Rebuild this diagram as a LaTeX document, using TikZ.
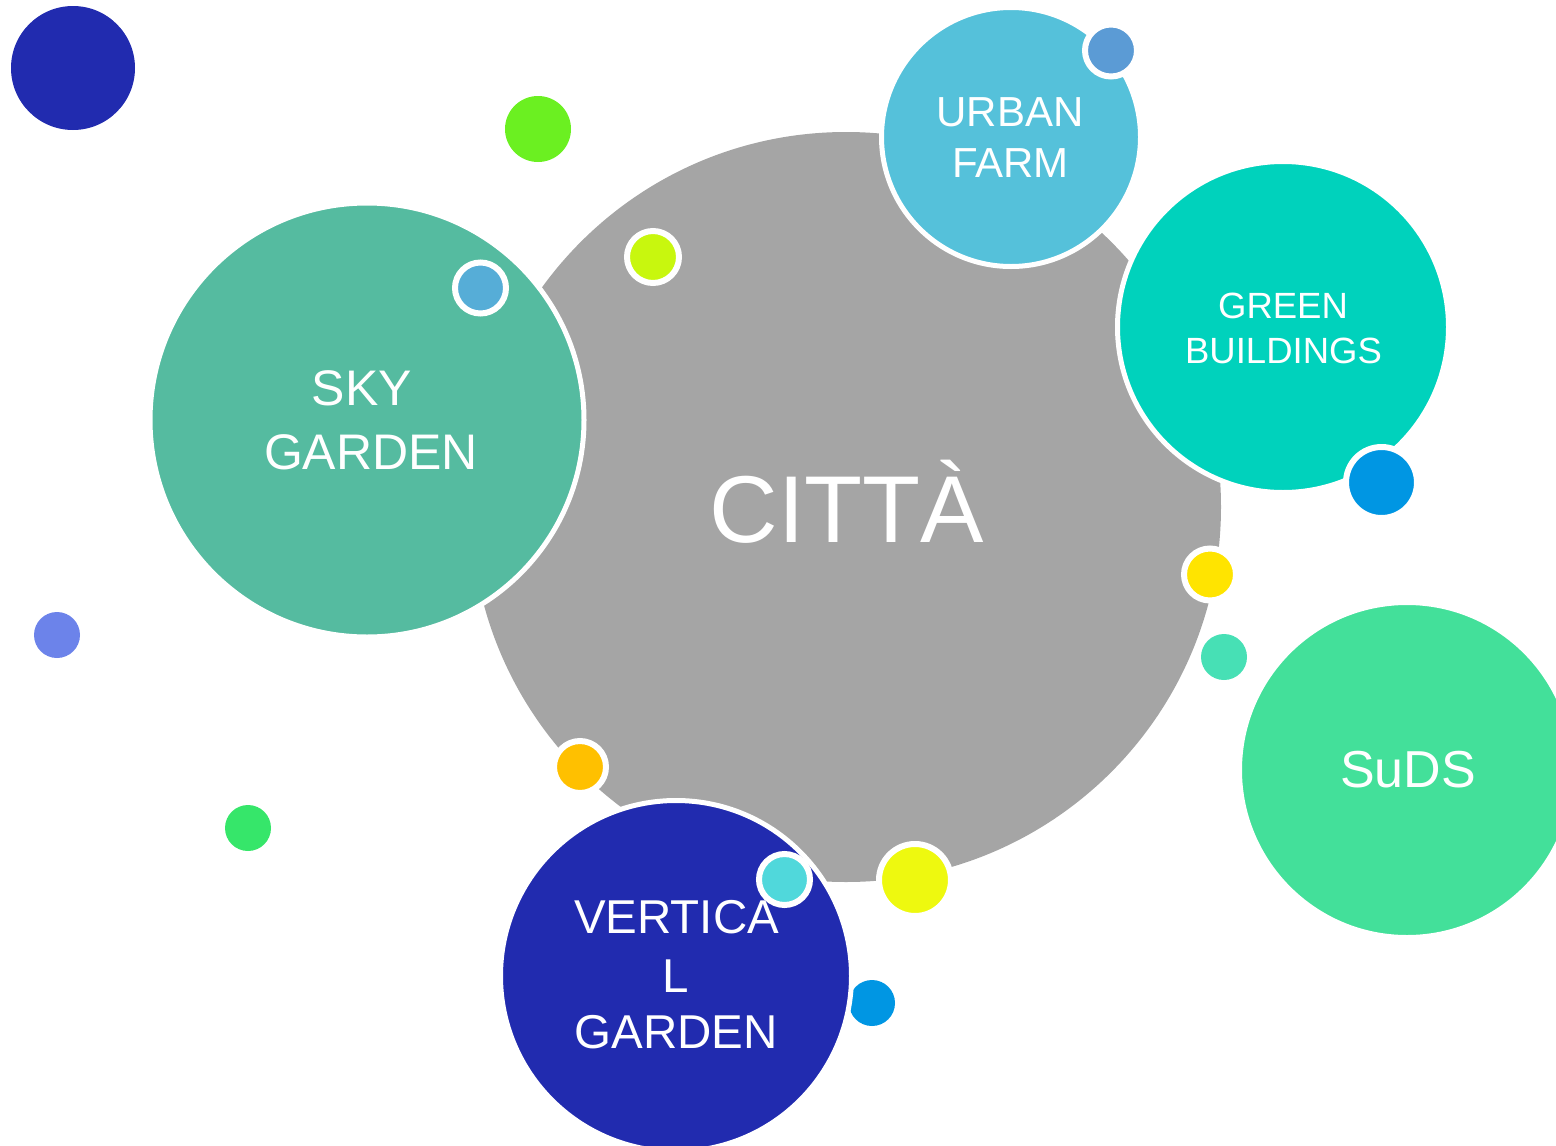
\documentclass[tikz,border=0pt]{standalone}
\usepackage{fontspec}
\setmainfont{Liberation Sans}
\definecolor{cgray}{HTML}{A5A5A5}
\definecolor{csky}{HTML}{55BBA0}
\definecolor{curban}{HTML}{55C1DA}
\definecolor{cgreenb}{HTML}{00D2BC}
\definecolor{csuds}{HTML}{43E09A}
\definecolor{cvert}{HTML}{212BAF}
\definecolor{cgreenA}{HTML}{6BF021}
\definecolor{cygreen}{HTML}{C8F70E}
\definecolor{clblue}{HTML}{56ADD7}
\definecolor{cublue}{HTML}{5B9BD5}
\definecolor{cblue}{HTML}{0096E3}
\definecolor{cyellow}{HTML}{FFE400}
\definecolor{cteal}{HTML}{47E0B5}
\definecolor{cperi}{HTML}{6C83EA}
\definecolor{cgreenB}{HTML}{36E66A}
\definecolor{corange}{HTML}{FFC000}
\definecolor{ccyan}{HTML}{50D8DB}
\definecolor{cyellowB}{HTML}{EEF90F}
\tikzset{
  big/.style={circle, inner sep=0pt, outer sep=0pt, draw=white, line width=5pt, minimum size=#1},
  dot/.style={circle, inner sep=0pt, outer sep=0pt, draw=none, minimum size=#1},
  ringdot/.style={circle, inner sep=0pt, outer sep=0pt, draw=white, line width=6pt, minimum size=#1},
  lbl/.style={anchor=base, text=white, inner sep=0pt, font=\fontsize{#1}{#1}\selectfont}
}
\begin{document}
\begin{tikzpicture}[x=1pt,y=-1pt]
\useasboundingbox (0,0) rectangle (1556,1146);
\clip (0,0) rectangle (1556,1146);
% main circle
\node[dot=750pt, fill=cgray] (citta) at (846,507) {};
% blue dot under vertical garden
\node[dot=46pt, fill=cblue] (d14) at (872,1003) {};
% big circles
\node[big=434pt, fill=csky] (sky) at (367,420) {};
\node[big=259pt, fill=curban] (urban) at (1011,137) {};
\node[big=331pt, fill=cgreenb] (greenb) at (1283,327) {};
\node[big=335pt, fill=csuds] (suds) at (1407,770) {};
\node[big=351pt, fill=cvert] (vert) at (676,976) {};
% free dots
\node[dot=124pt, fill=cvert] (d1) at (73,68) {};
\node[dot=66pt, fill=cgreenA] (d2) at (538,129) {};
\node[dot=46pt, fill=cteal] (d8) at (1224,657) {};
\node[dot=46pt, fill=cperi] (d9) at (57,635) {};
\node[dot=46pt, fill=cgreenB] (d10) at (248,828) {};
% ringed dots
\node[ringdot=52pt, fill=cygreen] (d3) at (653,257) {};
\node[ringdot=51pt, fill=clblue] (d4) at (480.5,288) {};
\node[ringdot=52pt, fill=cublue] (d5) at (1111,50.5) {};
\node[ringdot=71pt, fill=cblue] (d6) at (1381.5,482.5) {};
\node[ringdot=52pt, fill=cyellow] (d7) at (1210,574.5) {};
\node[ringdot=52pt, fill=corange] (d11) at (580,767) {};
\node[ringdot=51pt, fill=ccyan] (d12) at (784.5,879.5) {};
\node[ringdot=72pt, fill=cyellowB] (d13) at (915,880) {};
% labels
\node[lbl=95] (tcitta) at (847,542) {CITTÀ};
\node[lbl=50] (tsky1) at (362,405) {SKY};
\node[lbl=50] (tsky2) at (371,469) {GARDEN};
\node[lbl=42] (turb1) at (1010,126) {URBAN};
\node[lbl=42] (turb2) at (1010.5,177) {FARM};
\node[lbl=36.5] (tgb1) at (1283,318) {GREEN};
\node[lbl=36.5] (tgb2) at (1283.5,363) {BUILDINGS};
\node[lbl=52] (tsuds) at (1408,787) {SuDS};
\node[lbl=47.5] (tv1) at (676.5,933) {VERTICA};
\node[lbl=47.5] (tv2) at (676,992) {L};
\node[lbl=47.5] (tv3) at (676,1048) {GARDEN};
\end{tikzpicture}
\end{document}
